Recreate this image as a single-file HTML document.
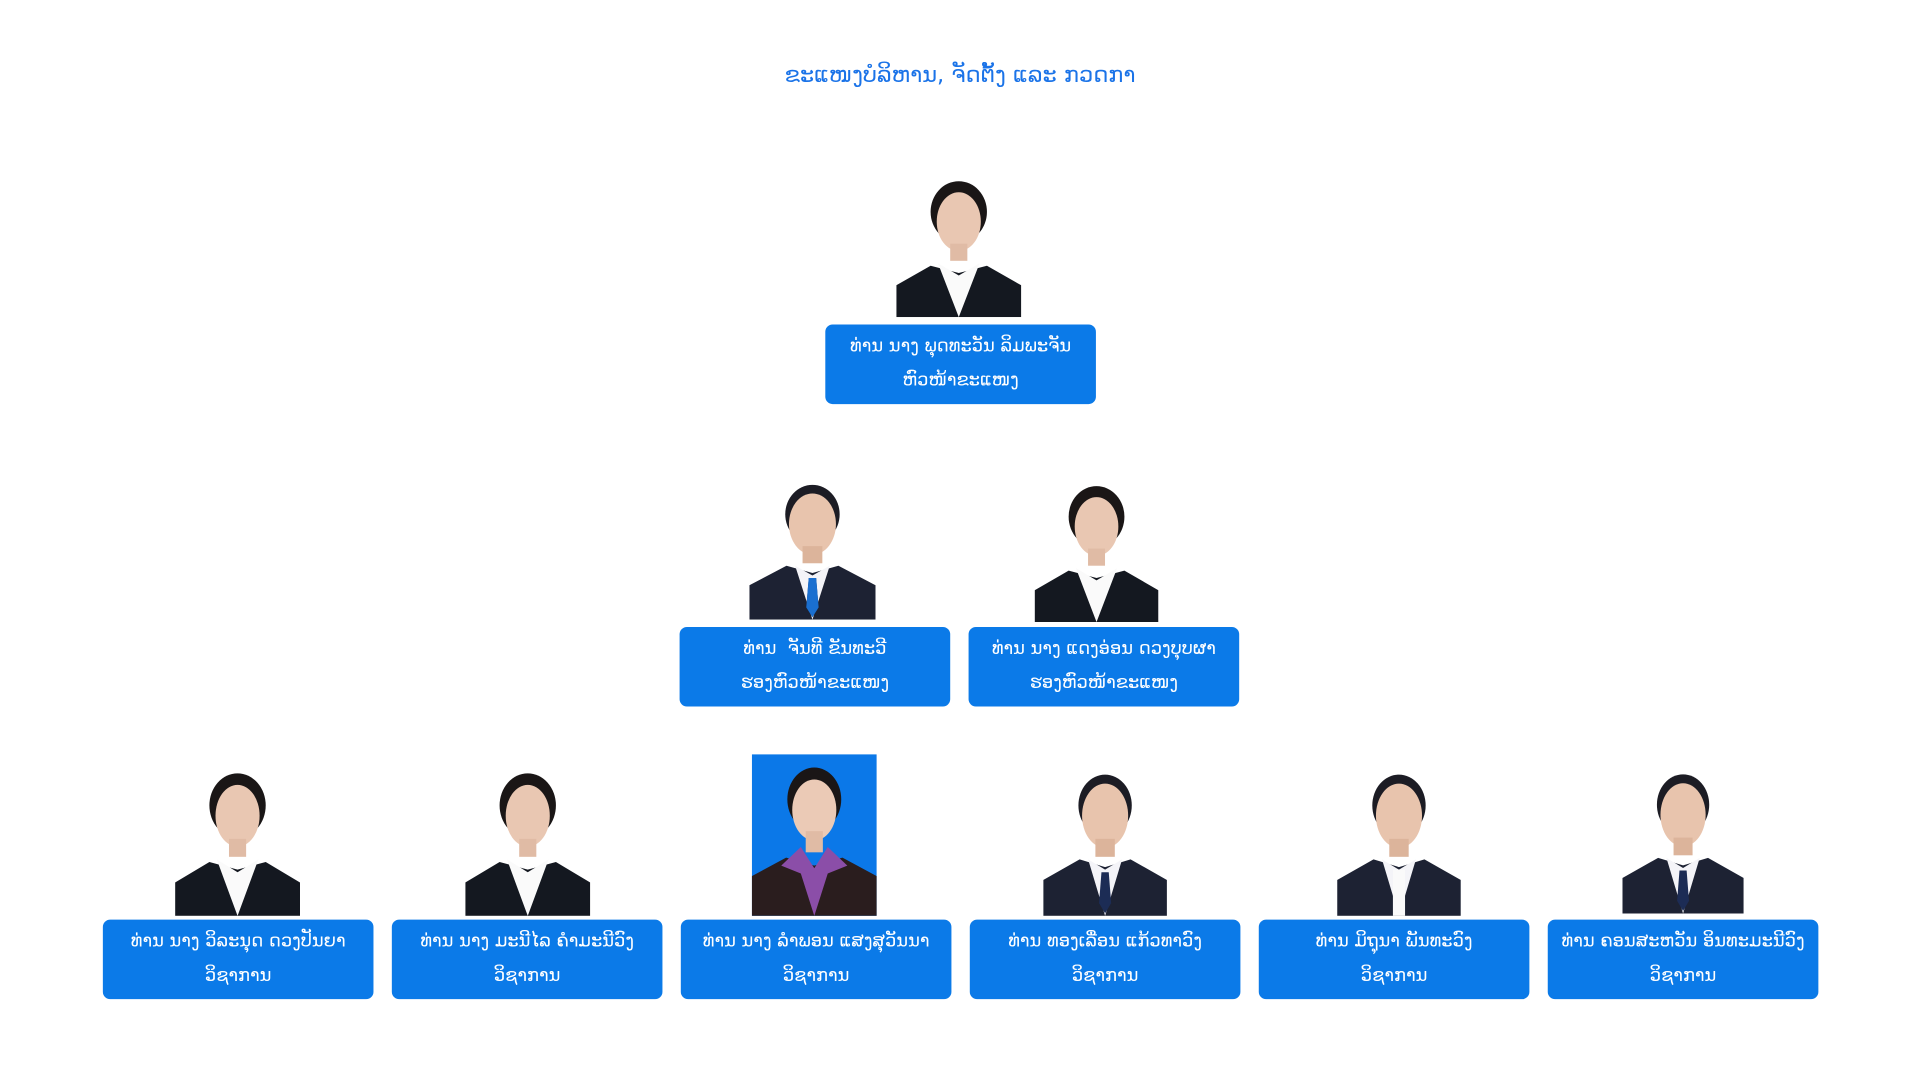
<!DOCTYPE html>
<html><head><meta charset="utf-8">
<style>
html,body{margin:0;padding:0;background:#fff;width:1920px;height:1080px;overflow:hidden}
#s{position:absolute;left:0;top:0;width:1568px;height:882px;transform:scale(1.22449);transform-origin:0 0}
.t{position:absolute;left:0;width:1568px;top:51px;text-align:center;color:#1a73e8;font:18.4px "DejaVu Sans","Liberation Sans",sans-serif}
.b{position:absolute;width:221px;height:65px;background:#0b7ae8;border-radius:6px;color:#fff;text-align:center;font:14.6px/28px "DejaVu Sans","Liberation Sans",sans-serif;box-sizing:border-box;padding-top:4px;white-space:nowrap}
.p{position:absolute;width:102px;height:122px}
</style></head><body><div id="s">
<div class="t">ຂະແໜງບໍລິຫານ, ຈັດຕັ້ງ ແລະ ກວດກາ</div>

<svg width="0" height="0" style="position:absolute">
<defs>
<g id="man">
<ellipse cx="51" cy="36" rx="22" ry="24" fill="#1c1c24"/>
<ellipse cx="51" cy="44" rx="19" ry="25" fill="#e8c4ad"/>
<rect x="43" y="62" width="16" height="14" fill="#dcb49b"/>
<path d="M0 94 L30 78 L51 84 L72 78 L102 94 L102 122 L0 122Z" fill="#1d2233"/>
<path d="M37 78 L51 122 L65 78 L51 86Z" fill="#f4f4f8"/>
<path d="M48 88 L54 88 L56 112 L51 120 L46 112Z" fill="#1c2c55"/>
</g>
<g id="woman">
<ellipse cx="51" cy="36" rx="23" ry="25" fill="#1a1616"/>
<ellipse cx="51" cy="44" rx="18" ry="24" fill="#e9c7b2"/>
<rect x="44" y="62" width="14" height="14" fill="#e0bba5"/>
<path d="M0 96 L28 80 L51 86 L74 80 L102 96 L102 122 L0 122Z" fill="#141820"/>
<path d="M34 78 L51 122 L68 78 L51 88Z" fill="#fafafa"/>
</g>
</defs></svg>

<svg class="p" style="left:732px;top:137px" viewBox="0 0 102 122" preserveAspectRatio="none"><use href="#woman"/></svg>
<div class="b" style="left:674px;top:265px">ທ່ານ ນາງ ພຸດທະວັນ ລິມພະຈັນ<br>ຫົວໜ້າຂະແໜງ</div>

<svg class="p" style="left:612px;top:384px;height:122px;width:103px" viewBox="0 0 102 122" preserveAspectRatio="none"><use href="#man"/><path d="M48 88 L54 88 L56 112 L51 120 L46 112Z" fill="#1a6fd0"/></svg>
<div class="b" style="left:555px;top:512px">ທ່ານ &nbsp;ຈັນທີ ຂັນທະວີ<br>ຮອງຫົວໜ້າຂະແໜງ</div>
<svg class="p" style="left:845px;top:386px;width:101px" viewBox="0 0 102 122" preserveAspectRatio="none"><use href="#woman"/></svg>
<div class="b" style="left:791px;top:512px">ທ່ານ ນາງ ແດງອ່ອນ ດວງບຸບຜາ<br>ຮອງຫົວໜ້າຂະແໜງ</div>

<svg class="p" style="left:143px;top:620px;height:128px" viewBox="0 0 102 122" preserveAspectRatio="none"><use href="#woman"/></svg>
<div class="b" style="left:84px;top:751px">ທ່ານ ນາງ ວິລະນຸດ ດວງປັນຍາ<br>ວິຊາການ</div>
<svg class="p" style="left:380px;top:620px;height:128px" viewBox="0 0 102 122" preserveAspectRatio="none"><use href="#woman"/></svg>
<div class="b" style="left:320px;top:751px">ທ່ານ ນາງ ມະນີໄລ ຄຳມະນີວົງ<br>ວິຊາການ</div>
<svg class="p" style="left:614px;top:616px;height:132px" viewBox="0 0 102 122" preserveAspectRatio="none">
<rect width="102" height="122" fill="#0b78e8"/>
<ellipse cx="51" cy="34" rx="22" ry="24" fill="#1a1616"/>
<ellipse cx="51" cy="42" rx="18" ry="23" fill="#ebcab6"/>
<rect x="44" y="58" width="14" height="16" fill="#e0bba5"/>
<path d="M0 92 L28 78 L51 84 L74 78 L102 92 L102 122 L0 122Z" fill="#2a1d1e"/>
<path d="M24 84 L40 70 L51 86 L62 70 L78 84 L62 90 L51 122 L40 90Z" fill="#8b4ea8"/>
</svg>
<div class="b" style="left:556px;top:751px">ທ່ານ ນາງ ລຳພອນ ແສງສຸວັນນາ<br>ວິຊາການ</div>
<svg class="p" style="left:852px;top:620px;height:128px;width:101px" viewBox="0 0 102 122" preserveAspectRatio="none"><use href="#man"/></svg>
<div class="b" style="left:792px;top:751px">ທ່ານ ທອງເລື່ອນ ແກ້ວທາວົງ<br>ວິຊາການ</div>
<svg class="p" style="left:1092px;top:620px;height:128px;width:101px" viewBox="0 0 102 122" preserveAspectRatio="none"><use href="#man"/><rect x="46" y="86" width="10" height="36" fill="#fafafa"/></svg>
<div class="b" style="left:1028px;top:751px">ທ່ານ ມິຖຸນາ ພັນທະວົງ<br>ວິຊາການ</div>
<svg class="p" style="left:1325px;top:620px;height:126px;width:99px" viewBox="0 0 102 122" preserveAspectRatio="none"><use href="#man"/></svg>
<div class="b" style="left:1264px;top:751px">ທ່ານ ຄອນສະຫວັນ ອິນທະມະນີວົງ<br>ວິຊາການ</div>
</div></body></html>
